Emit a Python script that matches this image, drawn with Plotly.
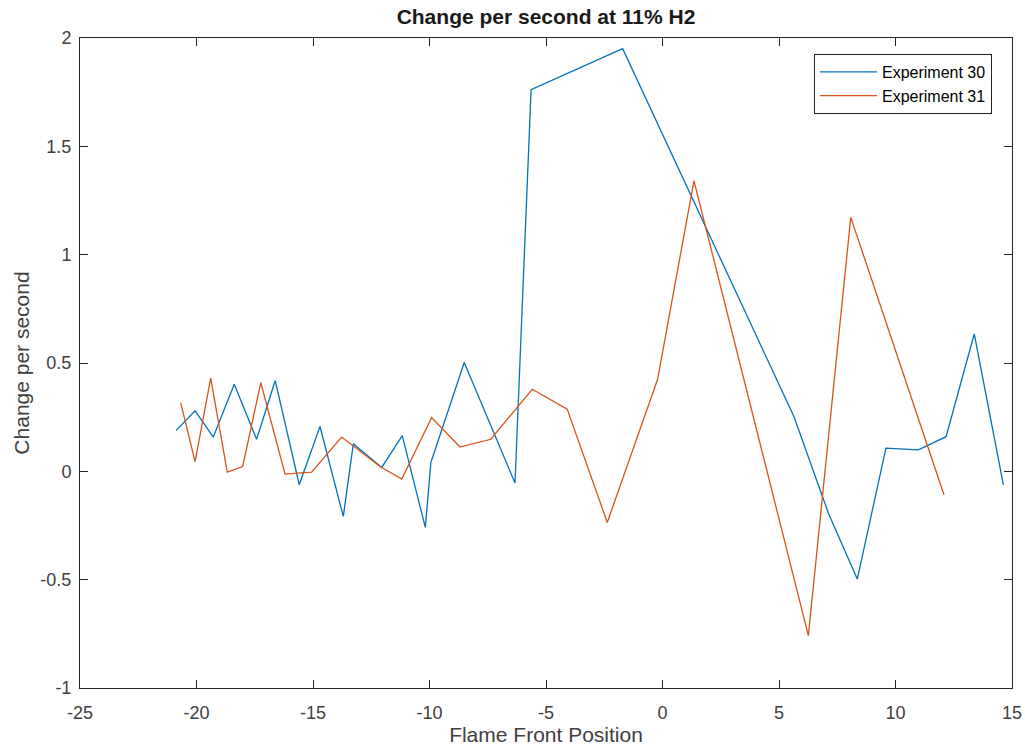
import plotly.graph_objects as go

# Experiment 30 (blue)
exp30_x = [-20.88, -20.06, -19.28, -18.38, -17.42, -16.62, -15.59, -14.70, -13.70, -13.27,
           -12.05, -11.17, -10.18, -9.94, -8.51, -6.33, -5.64, -1.71, 5.64, 7.12,
           8.36, 9.59, 10.98, 12.17, 13.38, 14.63]
exp30_y = [0.188, 0.279, 0.158, 0.402, 0.148, 0.419, -0.062, 0.207, -0.208, 0.127,
           0.018, 0.165, -0.259, 0.041, 0.502, -0.054, 1.762, 1.951, 0.253, -0.193,
           -0.497, 0.107, 0.099, 0.160, 0.634, -0.062]

# Experiment 31 (orange)
exp31_x = [-20.68, -20.06, -19.39, -18.68, -18.02, -17.24, -16.20, -15.06, -13.77, -12.12,
           -11.19, -9.91, -8.69, -7.37, -5.59, -4.09, -2.37, -0.21, 1.35, 6.26,
           8.08, 12.08]
exp31_y = [0.317, 0.045, 0.430, -0.004, 0.022, 0.409, -0.013, -0.004, 0.158, 0.022,
           -0.036, 0.248, 0.112, 0.148, 0.379, 0.287, -0.236, 0.425, 1.341, -0.758,
           1.172, -0.108]

x_ticks = [-25, -20, -15, -10, -5, 0, 5, 10, 15]
x_ticklabels = ["-25", "-20", "-15", "-10", "-5", "0", "5", "10", "15"]
y_ticks = [-1, -0.5, 0, 0.5, 1, 1.5, 2]
y_ticklabels = ["-1", "-0.5", "0", "0.5", "1", "1.5", "2"]

FONT = "Liberation Sans, Arial, Helvetica, sans-serif"
GRAY = "#262626"
LABEL = "#404040"

fig = go.Figure()
fig.add_trace(go.Scatter(x=exp30_x, y=exp30_y, mode="lines", name="Experiment 30",
                         line=dict(color="#0072BD", width=1.3)))
fig.add_trace(go.Scatter(x=exp31_x, y=exp31_y, mode="lines", name="Experiment 31",
                         line=dict(color="#D95319", width=1.3)))

axis_common = dict(showgrid=False, zeroline=False, showline=True, linecolor=GRAY,
                   linewidth=1, mirror="allticks", ticks="inside", ticklen=8,
                   tickcolor=GRAY, tickwidth=1, automargin=False,
                   tickfont=dict(family=FONT, size=18, color=LABEL))

fig.update_layout(
    width=1025, height=751,
    paper_bgcolor="white", plot_bgcolor="white",
    margin=dict(l=80, r=13, t=38, b=63),
    title=dict(text="<b>Change per second at 11% H2</b>", x=0.5327, xanchor="center",
               y=0.988, yanchor="top", font=dict(family=FONT, size=21, color="#1a1a1a")),
    xaxis=dict(range=[-25, 15], tickvals=x_ticks, ticktext=x_ticklabels,
               ticklabelstandoff=8,
               title=dict(text="Flame Front Position", standoff=3,
                          font=dict(family=FONT, size=21, color=LABEL)),
               **axis_common),
    yaxis=dict(range=[-1, 2], tickvals=y_ticks, ticktext=y_ticklabels,
               ticklabelstandoff=4,
               title=dict(text="Change per second", standoff=5,
                          font=dict(family=FONT, size=21, color=LABEL)),
               **axis_common),
    legend=dict(x=0.9785, y=0.9755, xanchor="right", yanchor="top",
                bgcolor="white", bordercolor=GRAY, borderwidth=1,
                font=dict(family=FONT, size=16, color="black"),
                tracegroupgap=0, itemwidth=57),
    showlegend=True,
)

fig.write_html("out.html")
